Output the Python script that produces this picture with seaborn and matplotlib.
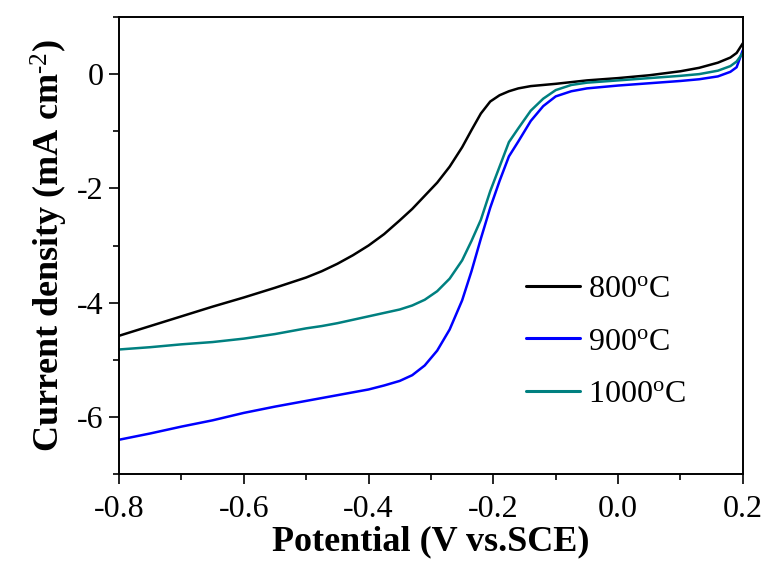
import numpy as np
import pandas as pd
import seaborn as sns
import matplotlib
matplotlib.use("Agg")
import matplotlib.pyplot as plt
from matplotlib.ticker import MultipleLocator, FormatStrFormatter

# Linear sweep voltammetry curves (current density vs potential)
potential = [-0.80, -0.75, -0.70, -0.65, -0.60, -0.55, -0.50, -0.475, -0.45,
             -0.425, -0.40, -0.375, -0.35, -0.33, -0.31, -0.29, -0.27, -0.25,
             -0.235, -0.22, -0.205, -0.19, -0.175, -0.16, -0.14, -0.12,
             -0.10, -0.075, -0.05, 0.00, 0.05, 0.10, 0.13, 0.16, 0.18, 0.19,
             0.20]

j_800 = [-4.58, -4.41, -4.24, -4.07, -3.91, -3.74, -3.56, -3.45, -3.32,
         -3.17, -3.00, -2.80, -2.56, -2.36, -2.13, -1.90, -1.62, -1.28,
         -0.98, -0.69, -0.48, -0.37, -0.30, -0.25, -0.21, -0.19, -0.17,
         -0.14, -0.11, -0.07, -0.02, 0.05, 0.11, 0.20, 0.29, 0.37, 0.54]

j_900 = [-6.40, -6.29, -6.17, -6.06, -5.93, -5.82, -5.72, -5.67, -5.62,
         -5.57, -5.52, -5.45, -5.37, -5.27, -5.10, -4.84, -4.47, -3.96,
         -3.45, -2.88, -2.34, -1.87, -1.44, -1.18, -0.82, -0.56, -0.39,
         -0.30, -0.25, -0.20, -0.16, -0.12, -0.09, -0.04, 0.04, 0.12, 0.42]

j_1000 = [-4.82, -4.78, -4.73, -4.69, -4.63, -4.55, -4.45, -4.41, -4.36,
          -4.30, -4.24, -4.18, -4.12, -4.05, -3.95, -3.80, -3.58, -3.26,
          -2.92, -2.55, -2.05, -1.62, -1.19, -0.95, -0.64, -0.43, -0.28,
          -0.19, -0.15, -0.11, -0.07, -0.03, 0.00, 0.06, 0.14, 0.22, 0.37]

labels = ["800$^{\\mathrm{o}}$C", "900$^{\\mathrm{o}}$C", "1000$^{\\mathrm{o}}$C"]
colors = ["#000000", "#0000FF", "#008080"]

df = pd.concat([
    pd.DataFrame({"Potential": potential, "J": j, "Sample": lab})
    for j, lab in zip([j_800, j_900, j_1000], labels)
], ignore_index=True)

sns.set_theme(style="ticks")
plt.rcParams["font.family"] = ["Liberation Serif", "DejaVu Serif"]
plt.rcParams["mathtext.fontset"] = "custom"
plt.rcParams["mathtext.rm"] = "Liberation Serif"
plt.rcParams["mathtext.it"] = "Liberation Serif:italic"
plt.rcParams["mathtext.bf"] = "Liberation Serif:bold"
plt.rcParams["axes.unicode_minus"] = False
plt.rcParams["text.color"] = "black"
plt.rcParams["axes.labelcolor"] = "black"
plt.rcParams["xtick.color"] = "black"
plt.rcParams["ytick.color"] = "black"

fig = plt.figure(figsize=(7.73, 5.66), dpi=100)
ax = fig.add_axes([0.154, 0.1625, 0.807, 0.8075])

sns.lineplot(data=df, x="Potential", y="J", hue="Sample", palette=colors,
             hue_order=labels, sort=False, estimator=None, linewidth=1.8,
             ax=ax)

ax.set_xlim(-0.8, 0.2)
ax.set_ylim(-7, 1)
ax.xaxis.set_major_locator(MultipleLocator(0.2))
ax.xaxis.set_minor_locator(MultipleLocator(0.1))
ax.xaxis.set_major_formatter(FormatStrFormatter("%.1f"))
ax.yaxis.set_major_locator(MultipleLocator(2))
ax.yaxis.set_minor_locator(MultipleLocator(1))

for side in ["left", "right", "top", "bottom"]:
    ax.spines[side].set_visible(True)
    ax.spines[side].set_linewidth(1.4)
    ax.spines[side].set_color("black")

ax.tick_params(which="major", direction="out", length=7, width=1.2,
               labelsize=23, colors="black", top=False, right=False)
ax.tick_params(axis="x", which="major", pad=8)
ax.tick_params(axis="y", which="major", pad=4)
ax.tick_params(which="minor", direction="out", length=4, width=1.2,
               top=False, right=False)

ax.set_xlabel("Potential (V vs.SCE)", fontsize=26, fontweight="bold",
              labelpad=1)
ax.set_ylabel("Current density (mA cm$^{\\text{-}2}$)", fontsize=26,
              fontweight="bold", labelpad=5)

leg = ax.legend(loc="center left", bbox_to_anchor=(0.652, 0.289),
                frameon=False, fontsize=23, handlelength=1.7,
                handletextpad=0.25, labelspacing=0.73, borderpad=0,
                borderaxespad=0)
for line in leg.get_lines():
    line.set_linewidth(2.2)

fig.savefig("out.png", dpi=100)
